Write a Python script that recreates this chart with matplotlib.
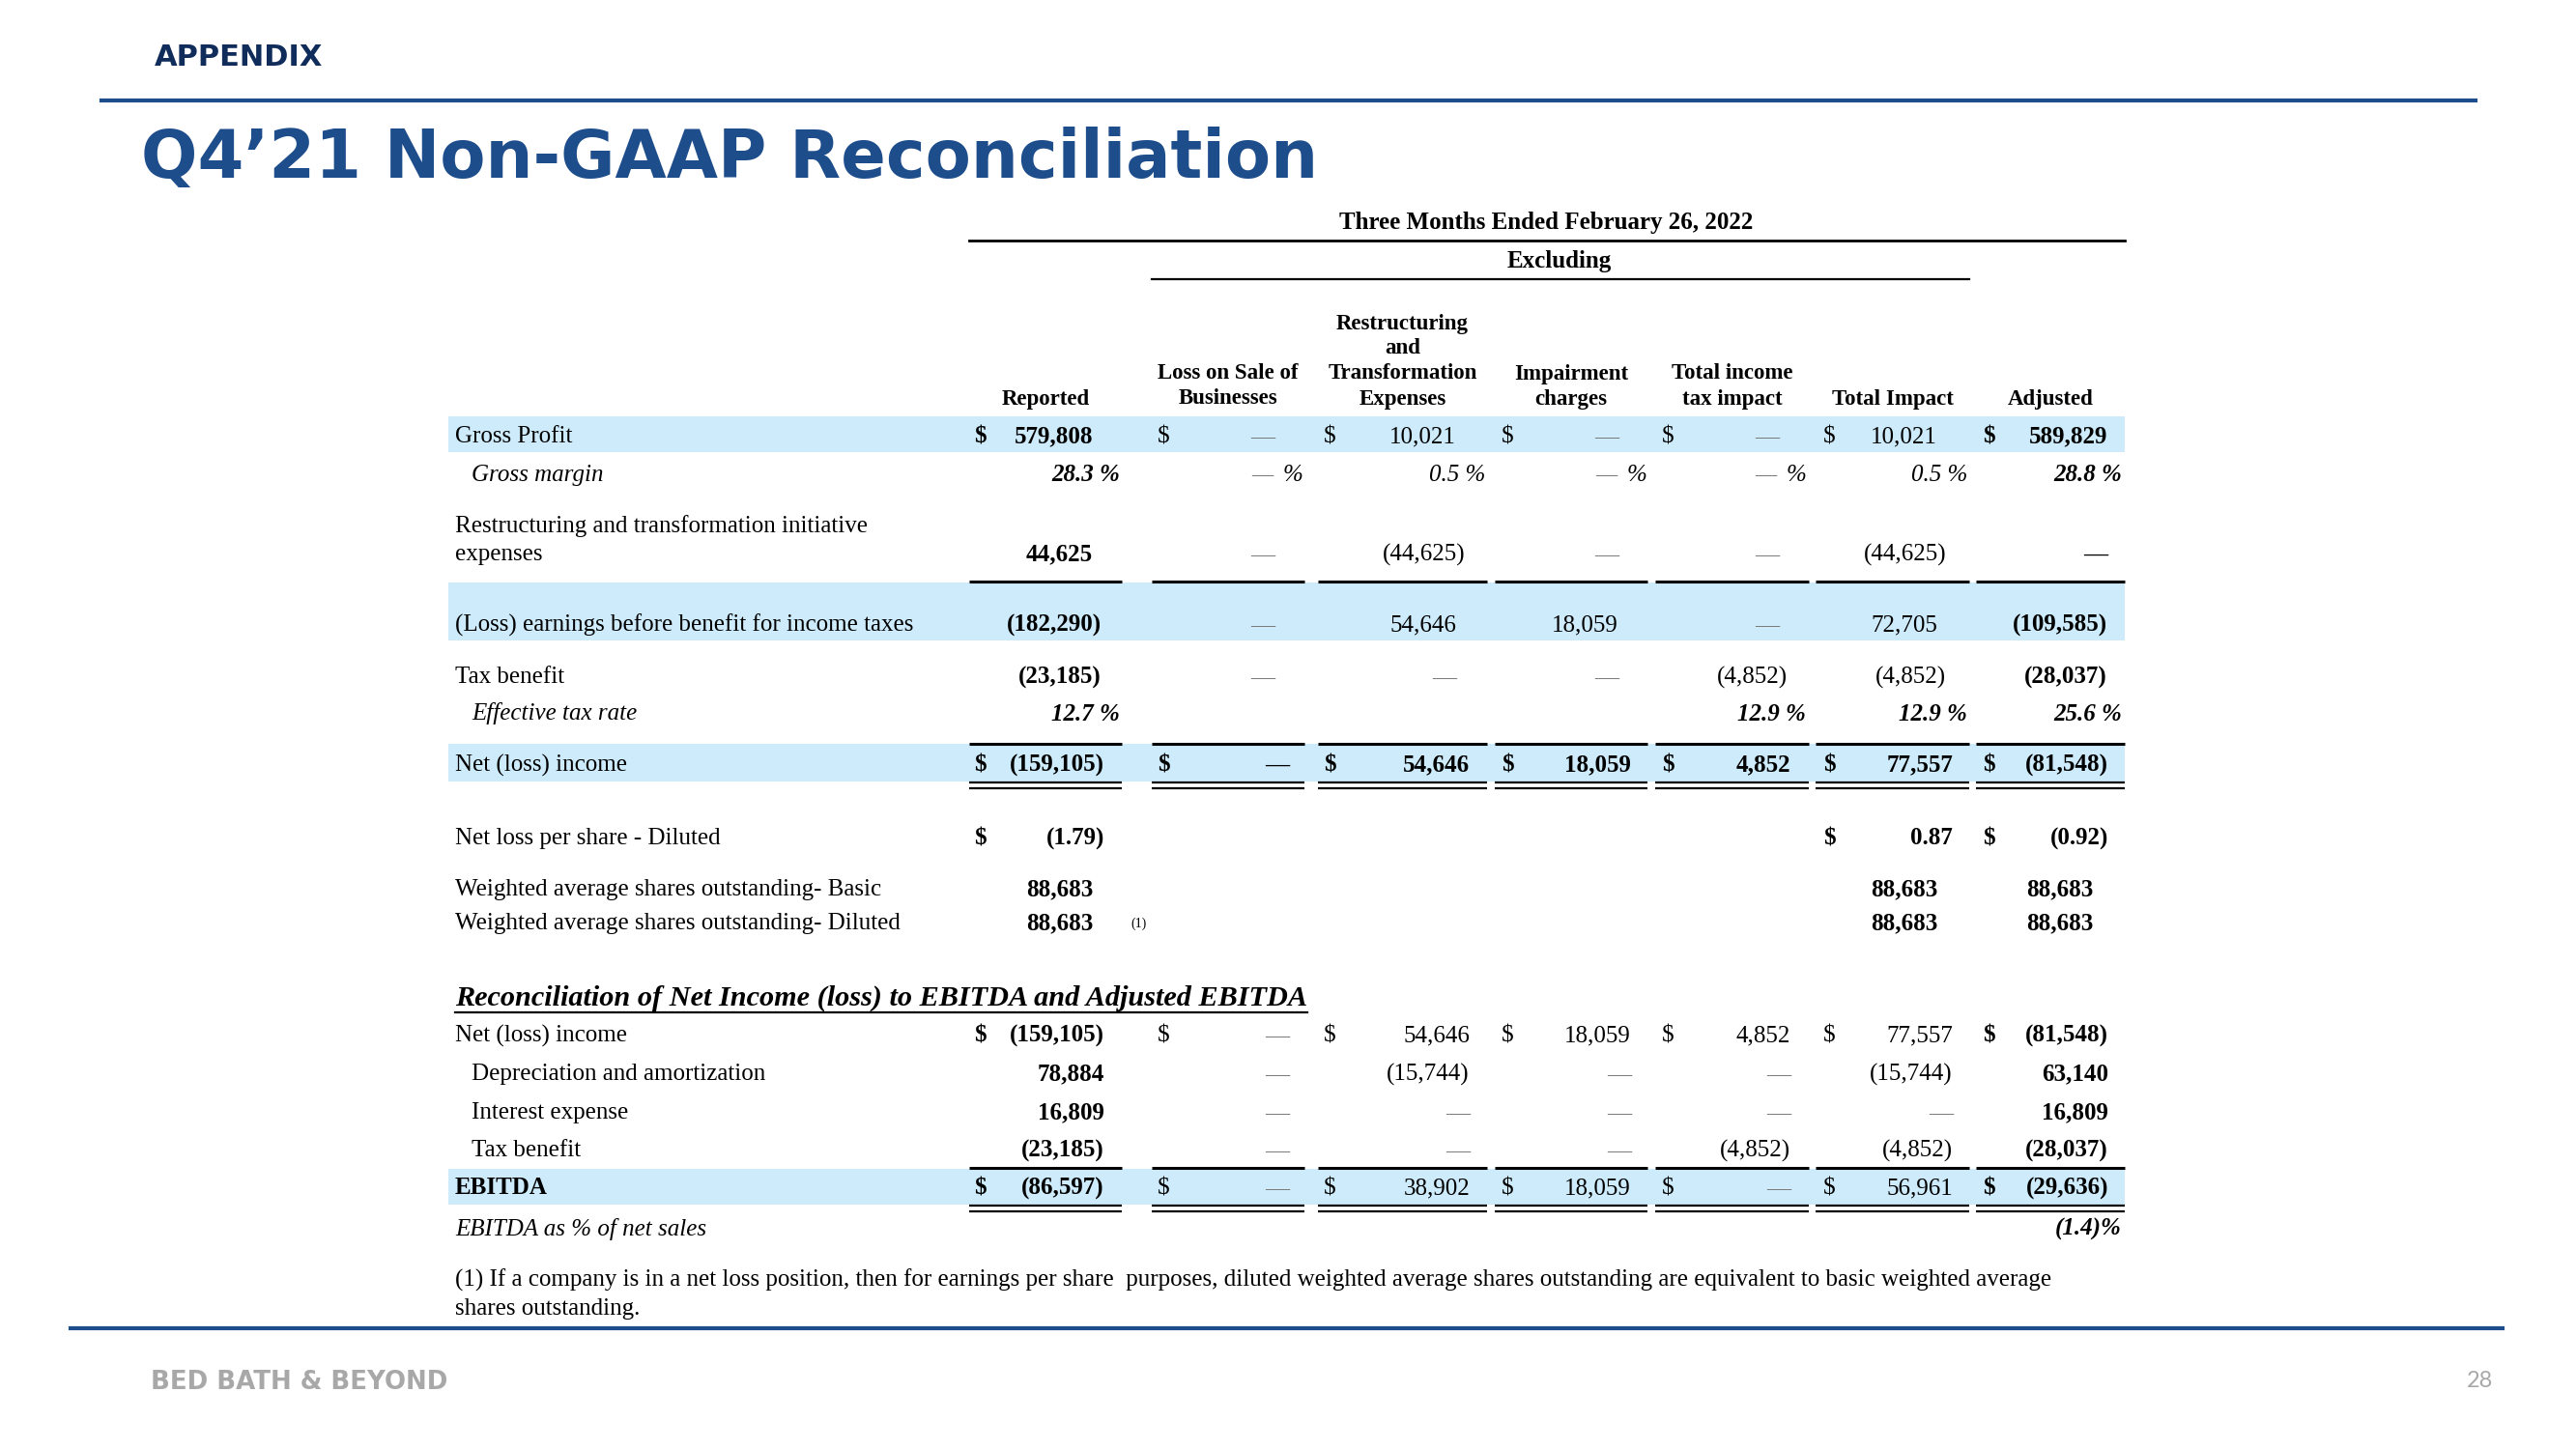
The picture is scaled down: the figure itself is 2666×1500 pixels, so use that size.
import matplotlib
matplotlib.use("Agg")
import matplotlib.pyplot as plt

# Column headers
columns = ["Reported", "Loss on Sale of\nBusinesses", "Restructuring\nand\nTransformation\nExpenses",
           "Impairment\ncharges", "Total income\ntax impact", "Total Impact", "Adjusted"]

# Values (thousands, except per share and percent)
gross_profit = [579808, 0, 10021, 0, 0, 10021, 589829]
gross_margin = [28.3, 0, 0.5, 0, 0, 0.5, 28.8]
restructuring = [44625, 0, -44625, 0, 0, -44625, 0]
pretax = [-182290, 0, 54646, 18059, 0, 72705, -109585]
tax_benefit = [-23185, 0, 0, 0, -4852, -4852, -28037]
eff_tax_rate = [12.7, None, None, None, 12.9, 12.9, 25.6]
net_income = [-159105, 0, 54646, 18059, 4852, 77557, -81548]
eps_diluted = [-1.79, None, None, None, None, 0.87, -0.92]
shares_basic = [88683, None, None, None, None, 88683, 88683]
shares_diluted = [88683, None, None, None, None, 88683, 88683]
dep_amort = [78884, 0, -15744, 0, 0, -15744, 63140]
interest = [16809, 0, 0, 0, 0, 0, 16809]
ebitda = [-86597, 0, 38902, 18059, 0, 56961, -29636]
ebitda_pct = [None, None, None, None, None, None, -1.4]

NAVY = "#1e4d8c"
DARK = "#102c5a"
BAND = "#cdebfb"
GREY = "#7a7a7a"
SERIF = "Liberation Serif"
FS = 18

fig = plt.figure(figsize=(26.66, 15), dpi=100)
ax = fig.add_axes([0, 0, 1, 1])
ax.set_xlim(0, 2666)
ax.set_ylim(1500, 0)
ax.axis("off")

# header / footer decoration
ax.text(160, 60, "APPENDIX", fontsize=22, fontweight="bold", color=DARK, family="DejaVu Sans", va="center")
ax.plot([105, 2562], [104, 104], color=NAVY, lw=3)
ax.text(146, 164, "Q4\u201921 Non-GAAP Reconciliation", fontsize=49.5, fontweight="bold",
        color=NAVY, family="DejaVu Sans", va="center")
ax.plot([73, 2590], [1375, 1375], color=NAVY, lw=3)
ax.text(156, 1431, "BED BATH & BEYOND", fontsize=18.7, fontweight="bold", color="#a8a8a8",
        family="DejaVu Sans", va="center")
ax.text(2580, 1429, "28", fontsize=17, color="#a8a8a8", family="Lato", ha="right", va="center")

seg_l = [1003, 1192, 1364, 1547, 1713, 1879, 2045]
seg_r = [1161, 1350, 1539, 1705, 1872, 2038, 2199]
dollar_x = [1008, 1198, 1370, 1554, 1720, 1887, 2052]
right_a = [1131, 1319, 1507, 1675, 1841, 2005, 2181]
hang_a = [9, 9, 9, 9, 9, 9, 0]
right_b = [1143, 1334, 1521, 1688, 1853, 2021, 2182]
hang_b = [0] * 7
right_s = [1131, 0, 0, 0, 0, 2005, 2166]
pct_r = [1159, 1348, 1537, 1704, 1869, 2036, 2196]

# super headers
ax.text(1600, 230, "Three Months Ended February 26, 2022", family=SERIF, fontsize=FS,
        fontweight="bold", ha="center", va="center")
ax.plot([1003, 2199], [249, 249], color="black", lw=2)
ax.text(1614, 270, "Excluding", family=SERIF, fontsize=FS, fontweight="bold", ha="center", va="center")
ax.plot([1192, 2038], [289, 289], color="black", lw=1.6)
for i, c in enumerate(columns):
    lines = c.split("\n")
    for k, ln in enumerate(reversed(lines)):
        ax.text((seg_l[i] + seg_r[i]) / 2, 413 - 26 * k, ln, family=SERIF, fontsize=16.5,
                fontweight="bold", ha="center", va="center")


def seg_lines(y, lw=2.2):
    for a, b in zip(seg_l, seg_r):
        ax.plot([a, b], [y, y], color="black", lw=lw, solid_capstyle="butt")


def band(y0, y1):
    ax.add_patch(plt.Rectangle((464, y0), 2199 - 464, y1 - y0, color=BAND, lw=0, zorder=0))


def fmt(v, kind):
    if v is None:
        return ""
    if kind == "pct":
        if v == 0:
            return "\u2014"
        if v < 0:
            return f"({abs(v):.1f})%"
        return f"{v:.1f} %"
    if kind == "eps":
        return f"({abs(v):.2f})" if v < 0 else f"{v:.2f}"
    if v == 0:
        return "\u2014"
    return f"({abs(v):,})" if v < 0 else f"{v:,}"


def row(y, label, vals, kind="num", dollars=None, bold=None, indent=False, italic=False,
        label_bold=False, right=right_a, hang=hang_a):
    if bold is None:
        bold = [True, False, False, False, False, False, True]
    style = "italic" if italic else "normal"
    ax.text(488 if indent else 471, y, label, family=SERIF, fontsize=FS, va="center",
            style=style, fontweight="bold" if label_bold else "normal")
    for i, v in enumerate(vals):
        s = fmt(v, kind)
        if s == "":
            continue
        w = "bold" if bold[i] else "normal"
        if kind == "pct":
            x = pct_r[i]
        elif v == 0 or v > 0:
            x = right[i]
        else:
            x = right[i] + hang[i]
        col = "black"
        if s == "\u2014" and not bold[i]:
            col = GREY
        if kind == "pct" and v == 0:
            ax.text(x, y, "%", family=SERIF, fontsize=FS, fontweight=w, style=style,
                    ha="right", va="center")
            x -= 31
        ax.text(x, y, s, family=SERIF, fontsize=FS, fontweight=w, style=style,
                ha="right", va="center", color=col)
        if dollars and dollars[i]:
            ax.text(dollar_x[i], y, "$", family=SERIF, fontsize=FS, fontweight=w,
                    ha="left", va="center")


all_d = [True] * 7
all_b = [True] * 7

band(431, 468)
row(452, "Gross Profit", gross_profit, dollars=all_d)
row(492, "Gross margin", gross_margin, kind="pct", indent=True, italic=True)
ax.text(471, 545, "Restructuring and transformation initiative", family=SERIF, fontsize=FS, va="center")
row(574, "expenses", restructuring)
seg_lines(602)
band(603, 663)
row(647, "(Loss) earnings before benefit for income taxes", pretax)
row(701, "Tax benefit", tax_benefit)
row(739, "Effective tax rate", eff_tax_rate, kind="pct", indent=True, italic=True, bold=all_b)
band(770, 809)
seg_lines(770)
row(792, "Net (loss) income", net_income, dollars=all_d, bold=all_b, right=right_b, hang=hang_b)
seg_lines(810, 1.6)
seg_lines(816, 1.6)
row(868, "Net loss per share - Diluted", eps_diluted, kind="eps",
    dollars=[True, False, False, False, False, True, True], bold=all_b, right=right_b, hang=hang_b)
row(921, "Weighted average shares outstanding- Basic", shares_basic, bold=all_b, right=right_s)
row(956, "Weighted average shares outstanding- Diluted", shares_diluted, bold=all_b, right=right_s)
ax.text(1170, 956, "(1)", family=SERIF, fontsize=10, va="center")

t = ax.text(471, 1033, "Reconciliation of Net Income (loss) to EBITDA and Adjusted EBITDA", family=SERIF,
            fontsize=21.8, fontweight="bold", style="italic", va="center")
fig.canvas.draw()
bb = t.get_window_extent().transformed(ax.transData.inverted())
ax.plot([bb.x0, bb.x1], [1048, 1048], color="black", lw=1.6)

row(1072, "Net (loss) income", net_income, dollars=all_d, right=right_b, hang=hang_b)
row(1112, "Depreciation and amortization", dep_amort, indent=True, right=right_b, hang=hang_b)
row(1152, "Interest expense", interest, indent=True, right=right_b, hang=hang_b)
row(1191, "Tax benefit", tax_benefit, indent=True, right=right_b, hang=hang_b)
band(1210, 1247)
seg_lines(1209)
row(1230, "EBITDA", ebitda, dollars=all_d, label_bold=True, right=right_b, hang=hang_b)
seg_lines(1248, 1.6)
seg_lines(1254, 1.6)
row(1272, "EBITDA as % of net sales", ebitda_pct, kind="pct", italic=True, bold=all_b)

ax.text(471, 1325, "(1) If a company is in a net loss position, then for earnings per share  purposes, "
        "diluted weighted average shares outstanding are equivalent to basic weighted average",
        family=SERIF, fontsize=FS, va="center")
ax.text(471, 1355, "shares outstanding.", family=SERIF, fontsize=FS, va="center")

fig.savefig("out.png", dpi=100)
